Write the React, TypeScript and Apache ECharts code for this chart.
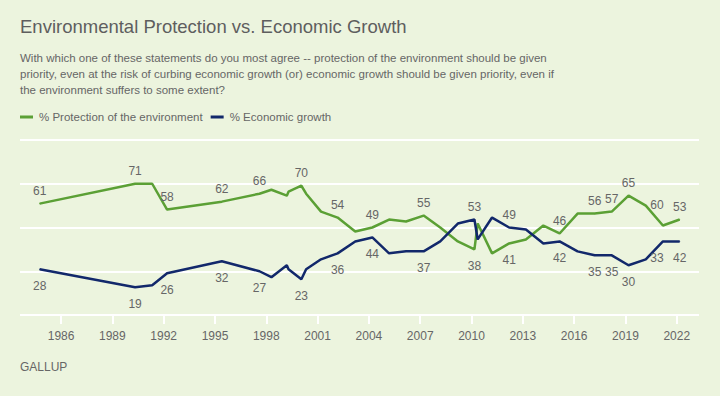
import React, { useEffect, useRef } from "react";
import * as echarts from "echarts";

// Survey dates (fractional years) and percentages
const years = [
  1984.75, 1990.33, 1991.33, 1992.2, 1995.4, 1997.6, 1998.3, 1999.2, 1999.3, 2000.05,
  2000.33, 2001.2, 2002.17, 2003.2, 2004.2, 2005.18, 2006.17, 2007.2, 2008.17, 2009.2,
  2010.17, 2010.36, 2011.2, 2012.2, 2013.18, 2014.2, 2015.15, 2016.2, 2017.2, 2018.2,
  2019.18, 2020.19, 2021.19, 2022.17,
];
const protection = [
  61, 71, 71, 58, 62, 66, 68, 65, 67, 70,
  66, 57, 54, 47, 49, 53, 52, 55, 49, 42,
  38, 51, 36, 41, 43, 50, 46, 56, 56, 57,
  65, 60, 50, 53,
];
const economy = [
  28, 19, 20, 26, 32, 27, 24, 30, 28, 23,
  28, 33, 36, 42, 44, 36, 37, 37, 42, 51,
  53, 43, 54, 49, 48, 41, 42, 37, 35, 35,
  30, 33, 42, 42,
];
const tickYears = [1986, 1989, 1992, 1995, 1998, 2001, 2004, 2007, 2010, 2013, 2016, 2019, 2022];
const gridValues = [5, 27, 49, 71, 93];

// Which points carry a value label, and where
const protectionLabelAt: Record<number, string> = {
  0: "top", 1: "top", 3: "top", 4: "top", 5: "top", 9: "top", 12: "top", 14: "top",
  17: "top", 20: "bottom", 23: "bottom", 26: "top", 28: "top", 29: "top", 30: "top",
  31: "right", 33: "top",
};
const economyLabelAt: Record<number, string> = {
  0: "bottom", 1: "bottom", 3: "bottom", 4: "bottom", 5: "bottom", 9: "bottom", 12: "bottom",
  14: "bottom", 17: "bottom", 20: "top", 23: "top", 26: "bottom", 28: "bottom", 29: "bottom",
  30: "bottom", 31: "right", 33: "bottom",
};

const FONT = "'Liberation Sans', Arial, sans-serif";
const TEXT = "#666666";
const BG = "#ecf4de";
const GREEN = "#5ba035";
const BLUE = "#12286b";

function labelFor(pos?: string) {
  if (!pos) return { show: false };
  const base: any = {
    show: true,
    position: pos,
    color: TEXT,
    fontSize: 12,
    fontFamily: FONT,
    formatter: (p: any) => String(p.value[1]),
  };
  if (pos === "top") base.distance = 6;
  if (pos === "bottom") base.distance = 10;
  if (pos === "right") {
    base.distance = 4;
    base.offset = [0, -1];
  }
  return base;
}

function buildData(values: number[], labels: Record<number, string>) {
  return years.map((y, i) => ({ value: [y, values[i]], label: labelFor(labels[i]) }));
}

export default function App() {
  const ref = useRef<HTMLDivElement>(null);
  useEffect(() => {
    if (!ref.current) return;
    const chart = echarts.init(ref.current, undefined, { renderer: "svg" });
    chart.setOption({
      animation: false,
      backgroundColor: BG,
      textStyle: { fontFamily: FONT },
      title: {
        text: "Environmental Protection vs. Economic Growth",
        subtext:
          "With which one of these statements do you most agree -- protection of the environment should be given\npriority, even at the risk of curbing economic growth (or) economic growth should be given priority, even if\nthe environment suffers to some extent?",
        left: 20,
        top: 17,
        padding: 0,
        itemGap: 14,
        textStyle: { fontFamily: FONT, fontSize: 18.5, fontWeight: "normal", color: "#5e5e5e" },
        subtextStyle: { fontFamily: FONT, fontSize: 11.5, color: TEXT, lineHeight: 16 },
      },
      legend: {
        left: 20,
        top: 111,
        padding: 0,
        icon: "rect",
        itemWidth: 13,
        itemHeight: 3,
        itemGap: 8,
        textStyle: { fontFamily: FONT, fontSize: 11.5, color: TEXT, padding: [0, 0, 0, 1] },
        data: ["% Protection of the environment", "% Economic growth"],
      },
      grid: { left: 20, right: 21, top: 140, bottom: 81 },
      xAxis: {
        type: "value",
        min: 1983.6,
        max: 2023.3,
        axisLine: { show: false },
        splitLine: { show: false },
        axisTick: {
          show: true,
          customValues: tickYears,
          length: 9,
          lineStyle: { color: "#ffffff", width: 2 },
        },
        axisLabel: {
          customValues: tickYears,
          margin: 15,
          color: TEXT,
          fontSize: 12,
          fontFamily: FONT,
          formatter: (v: number) => String(Math.round(v)),
        },
      },
      yAxis: {
        type: "value",
        min: gridValues[0],
        max: gridValues[gridValues.length - 1],
        interval: gridValues[1] - gridValues[0],
        axisLabel: { show: false },
        axisLine: { show: false },
        axisTick: { show: false },
        splitLine: { show: true, lineStyle: { color: "#ffffff", width: 2 } },
      },
      series: [
        {
          name: "% Protection of the environment",
          type: "line",
          data: buildData(protection, protectionLabelAt),
          symbol: "circle",
          symbolSize: 1,
          showAllSymbol: true,
          itemStyle: { color: GREEN },
          lineStyle: { color: GREEN, width: 2.5 },
          z: 3,
        },
        {
          name: "% Economic growth",
          type: "line",
          data: buildData(economy, economyLabelAt),
          symbol: "circle",
          symbolSize: 1,
          showAllSymbol: true,
          itemStyle: { color: BLUE },
          lineStyle: { color: BLUE, width: 2.5 },
          z: 4,
        },
      ],
      graphic: [
        {
          type: "text",
          left: 20,
          top: 361,
          style: { text: "GALLUP", fontFamily: FONT, fontSize: 12, fill: TEXT },
        },
      ],
    });
    return () => chart.dispose();
  }, []);
  return (
    <div
      ref={ref}
      style={{ position: "fixed", left: 0, top: 0, width: 720, height: 396, background: BG }}
    />
  );
}
